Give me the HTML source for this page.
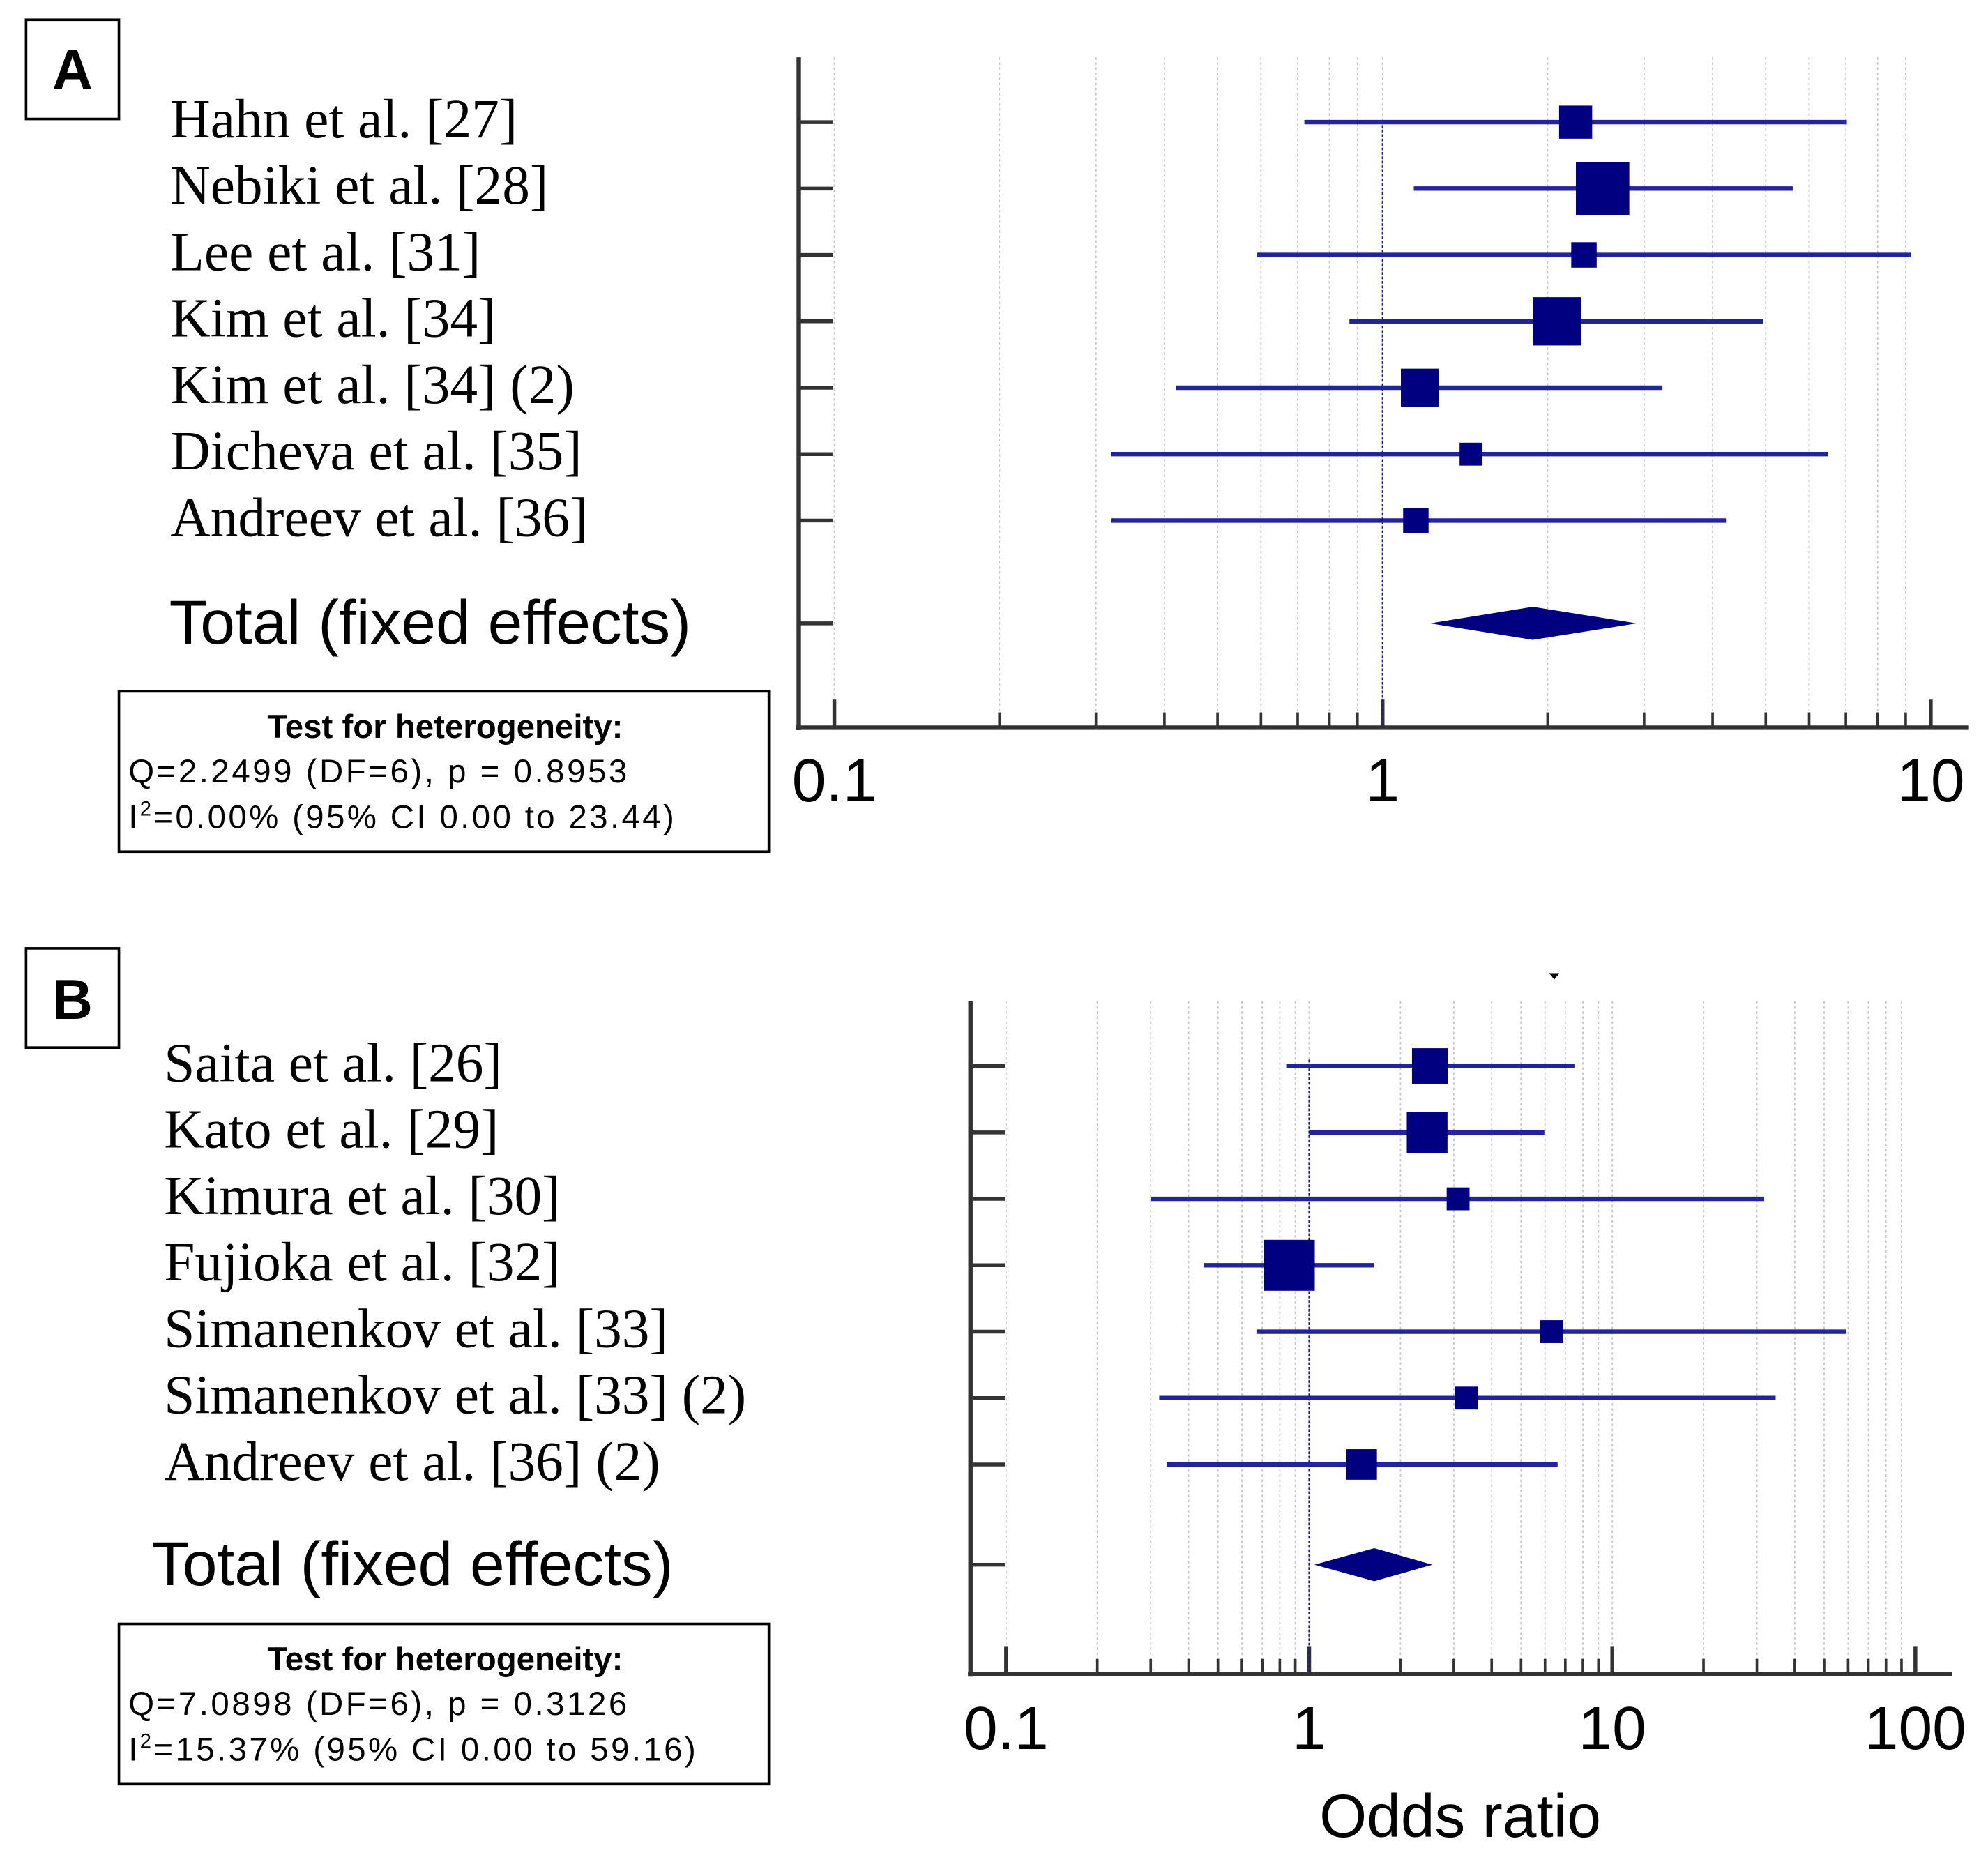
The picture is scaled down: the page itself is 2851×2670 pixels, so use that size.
<!DOCTYPE html>
<html><head><meta charset="utf-8"><style>
html,body{margin:0;padding:0;background:#fff;}
svg{display:block;}
</style></head><body>
<svg id="fig" xmlns="http://www.w3.org/2000/svg" width="2851" height="2670" viewBox="0 0 1563 1463.7" preserveAspectRatio="none">
<rect width="1563" height="1463.7" fill="#fff"/>
<g><rect x="20.5" y="15.5" width="73" height="78" fill="none" stroke="#000" stroke-width="2"/><text font-family="Liberation Sans, sans-serif" x="57" y="70" font-size="44" font-weight="bold" text-anchor="middle">A</text></g>
<g><rect x="20.5" y="745.5" width="73" height="78" fill="none" stroke="#000" stroke-width="2"/><text font-family="Liberation Sans, sans-serif" x="57" y="801" font-size="44" font-weight="bold" text-anchor="middle">B</text></g>
<g font-family="Liberation Sans, sans-serif"><rect x="93.5" y="543.5" width="511" height="126" fill="none" stroke="#000" stroke-width="2"/>
<text x="350" y="580" font-size="26" font-weight="bold" text-anchor="middle">Test for heterogeneity:</text>
<text x="101" y="615" font-size="26" textLength="392">Q=2.2499 (DF=6), p = 0.8953</text>
<text x="101" y="651" font-size="26" textLength="429">I<tspan font-size="16" dy="-10">2</tspan><tspan dy="10">=0.00% (95% CI 0.00 to 23.44)</tspan></text></g>
<g font-family="Liberation Sans, sans-serif"><rect x="93.5" y="1276.5" width="511" height="126" fill="none" stroke="#000" stroke-width="2"/>
<text x="350" y="1313" font-size="26" font-weight="bold" text-anchor="middle">Test for heterogeneity:</text>
<text x="101" y="1348" font-size="26" textLength="392">Q=7.0898 (DF=6), p = 0.3126</text>
<text x="101" y="1384" font-size="26" textLength="446">I<tspan font-size="16" dy="-10">2</tspan><tspan dy="10">=15.37% (95% CI 0.00 to 59.16)</tspan></text></g>
<text font-family="Liberation Sans, sans-serif" x="1148" y="1444" font-size="48" text-anchor="middle">Odds ratio</text>
<path d="M1218 765 L1226 765 L1222 770 Z" fill="#000"/>
<g id="plots"></g>
</svg>
<script>
const NS="http://www.w3.org/2000/svg";
// Panel A data
const studiesA=["Hahn et al. [27]","Nebiki et al. [28]","Lee et al. [31]","Kim et al. [34]","Kim et al. [34] (2)","Dicheva et al. [35]","Andreev et al. [36]"];
const orA=[2.25,2.52,2.33,2.08,1.17,1.45,1.15];
const loA=[0.72,1.14,0.59,0.87,0.42,0.32,0.32];
const hiA=[7.03,5.6,9.2,4.94,3.24,6.5,4.23];
const weightA=[26,42,20,38,30,18,20];
const totalA=[1.22,1.88,2.91];
const ticksA=["0.1","1","10"];
// Panel B data
const studiesB=["Saita et al. [26]","Kato et al. [29]","Kimura et al. [30]","Fujioka et al. [32]","Simanenkov et al. [33]","Simanenkov et al. [33] (2)","Andreev et al. [36] (2)"];
const orB=[2.5,2.45,3.1,0.86,6.3,3.3,1.49];
const loB=[0.84,1.0,0.30,0.45,0.67,0.32,0.34];
const hiB=[7.5,5.97,31.7,1.64,59,34.6,6.6];
const weightB=[28,32,18,40,18,18,24];
const totalB=[1.04,1.64,2.55];
const ticksB=["0.1","1","10","100"];

const root=document.getElementById('plots');
function el(t,a,p){const e=document.createElementNS(NS,t);for(const k in a)e.setAttribute(k,a[k]);(p||root).appendChild(e);return e;}

function panel(cfg,studies,or,lo,hi,w,tot,ticks,pref){
  const g=el('g',{});
  
  
  const xs=v=>cfg.x0+Math.log10(v/0.1)*cfg.dec;
  const ys=i=>cfg.r0+i*cfg.rs;
  const nDec=ticks.length-1;
  for(let d=0;d<nDec;d++){for(let m=1;m<=9;m++){const v=0.1*Math.pow(10,d)*m;const x=xs(v);
    const gl=el('line',{x1:x,x2:x,y1:cfg.top,y2:cfg.axY,stroke:'#c8c8c8','stroke-width':1,'stroke-dasharray':'2,2'},g);
    
    
    if(m>1){const t=el('line',{x1:x,x2:x,y1:cfg.axY,y2:cfg.axY-12,stroke:'#333','stroke-width':2},g);
      
      }}}
  ticks.forEach((lab,i)=>{const x=xs(parseFloat(lab));
    const t=el('line',{x1:x,x2:x,y1:cfg.axY,y2:cfg.axY-22,stroke:'#333','stroke-width':3},g);
    
    
    const tx=el('text',{x:x,y:cfg.lblY,'font-size':48,'text-anchor':'middle','font-family':'Liberation Sans, sans-serif'},g);
    tx.textContent=lab;
    
    });
  const ref=el('line',{x1:xs(1),x2:xs(1),y1:cfg.refTop,y2:cfg.axY,stroke:'#1a1a8c','stroke-width':1.2,'stroke-dasharray':'2,1.5'},g);
  
  
  const ya=el('line',{x1:cfg.ax,x2:cfg.ax,y1:cfg.top,y2:cfg.axY+2,stroke:'#333','stroke-width':3.5},g);
  
  
  const xa=el('line',{x1:cfg.ax-2,x2:cfg.axEnd,y1:cfg.axY,y2:cfg.axY,stroke:'#333','stroke-width':3.5},g);
  
  
  studies.forEach((s,i)=>{const y=ys(i);
    const yt=el('line',{x1:cfg.ax,x2:cfg.ax+27,y1:y,y2:y,stroke:'#333','stroke-width':3},g);
    
    
    const lb=el('text',{x:cfg.lx,y:y+12,'font-size':43.5,'font-family':'Liberation Serif, serif'},g);
    lb.textContent=s;
    
    
    const ci=el('line',{x1:xs(lo[i]),x2:xs(hi[i]),y1:y,y2:y,stroke:'#23239a','stroke-width':3.5},g);
    
    
    const sz=w[i];
    const sq=el('rect',{x:xs(or[i])-sz/2,y:y-sz/2,width:sz,height:sz,fill:'#000080'},g);
    
    });
  const ty=cfg.totY;
  const tt=el('line',{x1:cfg.ax,x2:cfg.ax+27,y1:ty,y2:ty,stroke:'#333','stroke-width':3},g);
  
  
  const tl=el('text',{x:cfg.tx,y:ty+16,'font-size':49,'font-family':'Liberation Sans, sans-serif'},g);
  tl.textContent='Total (fixed effects)';
  
  
  const dm=el('polygon',{points:`${xs(tot[0])},${ty} ${xs(tot[1])},${ty-13} ${xs(tot[2])},${ty} ${xs(tot[1])},${ty+13}`,fill:'#000080'},g);
  
  
}
panel({x0:656,dec:431,r0:96,rs:52.2,ax:628,axEnd:1548,top:45,axY:572,refTop:95,lblY:630,lx:134,totY:490,tx:133},studiesA,orA,loA,hiA,weightA,totalA,ticksA,'panel-a');
panel({x0:791,dec:238.3,r0:838,rs:52.2,ax:763,axEnd:1535,top:787,axY:1316,refTop:833,lblY:1375,lx:129,totY:1230,tx:119},studiesB,orB,loB,hiB,weightB,totalB,ticksB,'panel-b');
</script>
</body></html>
